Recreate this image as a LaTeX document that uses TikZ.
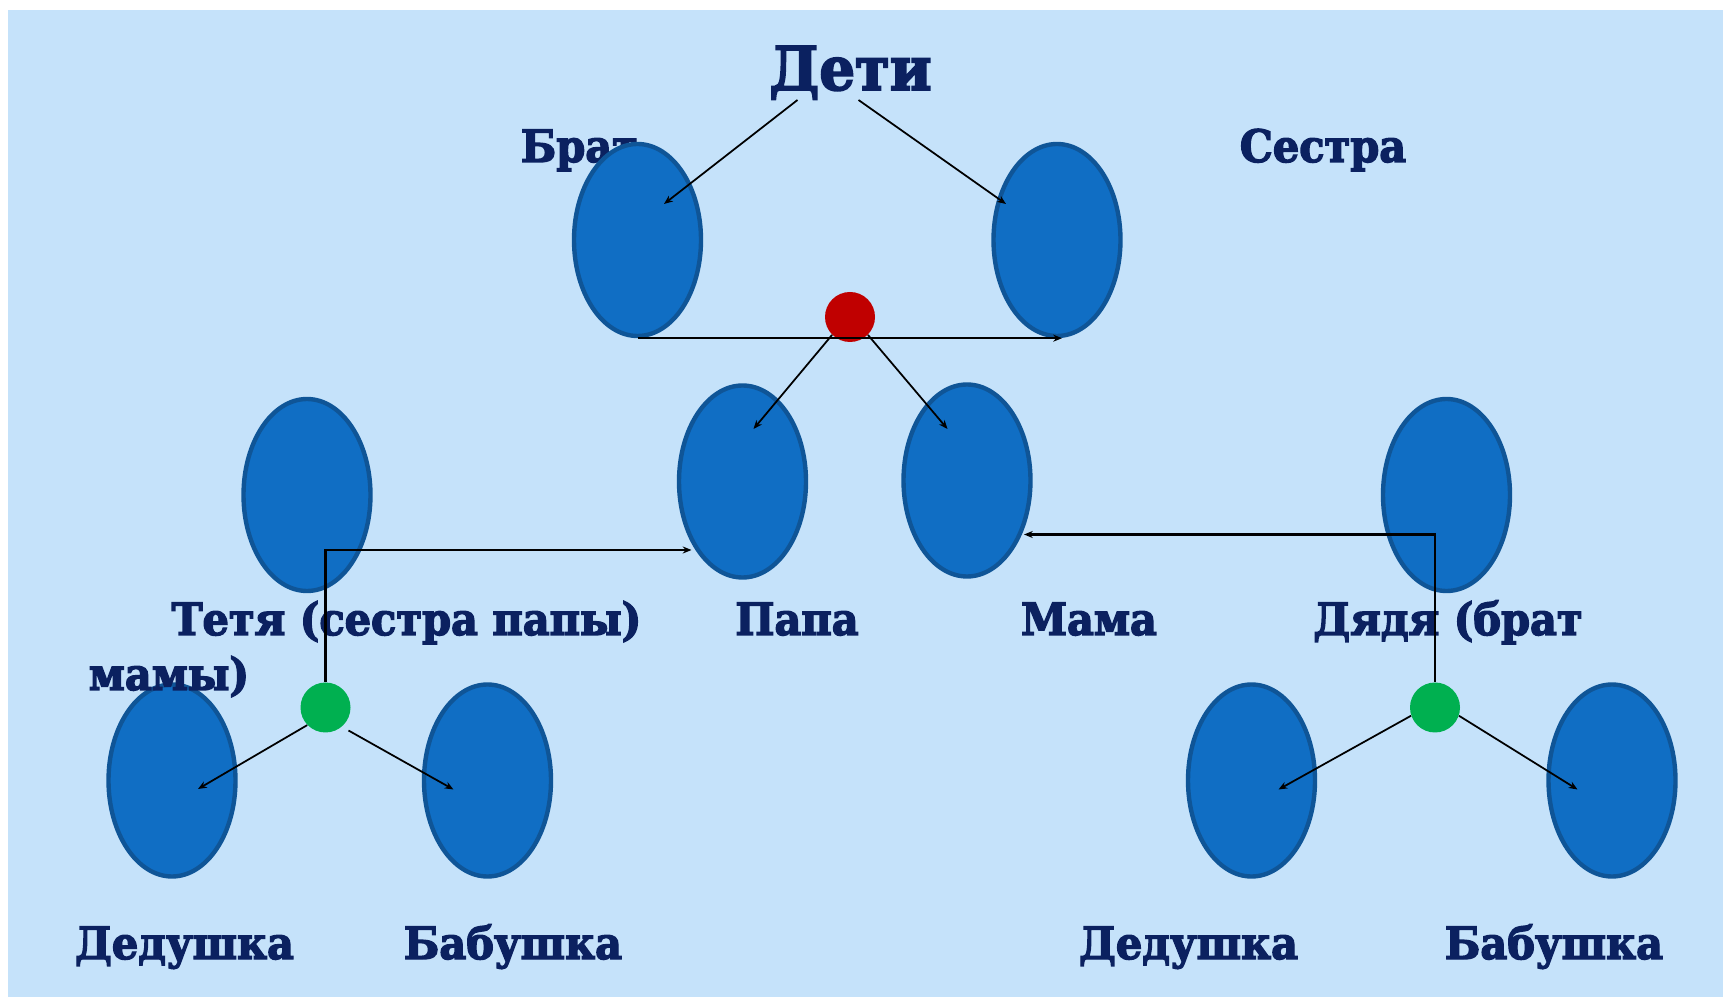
\documentclass[tikz,border=0pt]{standalone}
\usepackage{fontspec}
\setmainfont{DejaVu Serif}[FakeStretch=0.93, BoldFeatures={FakeBold=3}]
\usetikzlibrary{arrows.meta, calc, shapes.geometric}

\definecolor{bgblue}{HTML}{C5E2FA}
\definecolor{ovalfill}{HTML}{106EC4}
\definecolor{ovaledge}{HTML}{0F5597}
\definecolor{navy}{HTML}{0B2160}
\definecolor{dotred}{HTML}{C00000}
\definecolor{dotgreen}{HTML}{00B050}

\begin{document}
\begin{tikzpicture}[>={Stealth[length=5pt, width=4pt]},
  person/.style={ellipse, draw=ovaledge, fill=ovalfill, line width=2.5pt,
    minimum width=2.54cm, minimum height=3.84cm, inner sep=0pt},
  lbl/.style={anchor=base, inner sep=0pt, text=navy,
    font=\bfseries\fontsize{25.4}{30}\selectfont},
  knot/.style={circle, minimum size=1cm, inner sep=0pt},
  link/.style={->, line width=1pt}]

  \fill[white] (0,0) rectangle (34.46,19.94);
  \fill[bgblue] (0.17,0) rectangle (34.46,19.74);

  \node[lbl, anchor=base west] (bratlbl) at (10.41,16.70) {Брат};

  % children
  \node[person] (brat) at (12.75,15.14) {};
  \node[person] (sestra) at (21.14,15.14) {};

  % parents, aunt, uncle
  \node[person] (papa) at (14.85,10.31) {};
  \node[person] (mama) at (19.34,10.33) {};
  \node[person] (tetya) at (6.14,10.04) {};
  \node[person] (dyadya) at (28.93,10.04) {};

  % grandparents
  \node[person] (dedL) at (3.44,4.33) {};
  \node[person] (babL) at (9.75,4.33) {};
  \node[person] (dedR) at (25.03,4.33) {};
  \node[person] (babR) at (32.24,4.33) {};

  \node[lbl, font=\bfseries\fontsize{34.4}{40}\selectfont] (deti) at (17.01,18.14) {Дети};
  \node[lbl] (sestralbl) at (26.46,16.70) {Сестра};
  \node[lbl] (tetyalbl) at (8.13,7.24) {Тетя (сестра папы)};
  \node[lbl] (mamylbl) at (3.38,6.14) {мамы)};
  \node[lbl] (papalbl) at (15.94,7.24) {Папа};
  \node[lbl] (mamalbl) at (21.78,7.24) {Мама};
  \node[lbl] (dyadyalbl) at (28.96,7.24) {Дядя (брат};
  \node[lbl] (dedLlbl) at (3.69,0.76) {Дедушка};
  \node[lbl] (babLlbl) at (10.26,0.76) {Бабушка};
  \node[lbl] (dedRlbl) at (23.77,0.76) {Дедушка};
  \node[lbl] (babRlbl) at (31.08,0.76) {Бабушка};

  \node[knot, fill=dotred] (red) at (17.0,13.6) {};
  \node[knot, fill=dotgreen] (gl) at (6.51,5.79) {};
  \node[knot, fill=dotgreen] (gr) at (28.7,5.79) {};

  \draw[link] ([shift={(-1.06,-0.2)}]deti.base) -- ([shift={(0.53,0.72)}]brat.center);
  \draw[link] ([shift={(0.16,-0.2)}]deti.base) -- ([shift={(-1.02,0.72)}]sestra.center);
  \draw[link, line width=1.3pt] (brat.south) -- ([xshift=0.1cm]sestra.south);

  \draw[link] (red.225) -- ([shift={(0.22,1.05)}]papa.center);
  \draw[link] (red.-45) -- ([shift={(-0.39,1.03)}]mama.center);

  \draw[link, line width=1.2pt] (gl.north) |- ([shift={(-1.02,-1.37)}]papa.center);
  \draw[link, line width=1.2pt] (gr.north) |- ([shift={(1.14,-1.08)}]mama.center);

  \draw[link] (gl.224) -- ([shift={(0.52,-0.17)}]dedL.center);
  \draw[link] ([shift={(0.46,-0.46)}]gl.center) -- ([shift={(-0.68,-0.18)}]babL.center);
  \draw[link] (gr.199) -- ([shift={(0.54,-0.18)}]dedR.center);
  \draw[link] (gr.-19) -- ([shift={(-0.69,-0.18)}]babR.center);

\end{tikzpicture}
\end{document}
